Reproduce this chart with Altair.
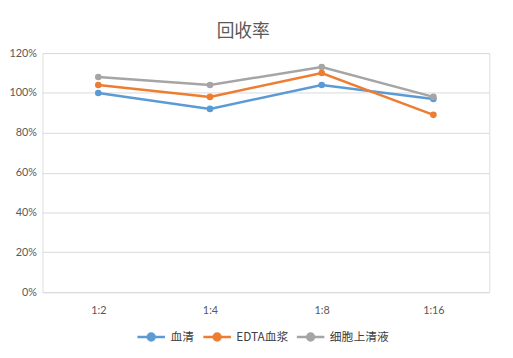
import altair as alt
import pandas as pd

categories = ["1:2", "1:4", "1:8", "1:16"]
series_names = ["血清", "EDTA血浆", "细胞上清液"]
serum = [1.00, 0.92, 1.04, 0.97]
edta = [1.04, 0.98, 1.10, 0.89]
supernatant = [1.08, 1.04, 1.13, 0.98]
colors = ["#5B9BD5", "#ED7D31", "#A5A5A5"]
y_ticks = [0, 0.2, 0.4, 0.6, 0.8, 1.0, 1.2]

rows = []
for name, vals in zip(series_names, [serum, edta, supernatant]):
    for c, v in zip(categories, vals):
        rows.append({"cat": c, "series": name, "value": v})
df = pd.DataFrame(rows)

sym = "M-1,0L1,0M-0.25,0A0.25,0.25,0,1,1,0.25,0A0.25,0.25,0,1,1,-0.25,0Z"

color = alt.Color(
    "series:N",
    scale=alt.Scale(domain=series_names, range=colors),
    legend=alt.Legend(
        title=None,
        orient="none",
        direction="horizontal",
        legendX=95,
        legendY=273,
        symbolType=sym,
        symbolSize=784,
        symbolStrokeWidth=2.5,
        labelFont="Noto Sans CJK SC",
        labelFontSize=12,
        labelColor="#404040",
        labelOffset=4,
        columnPadding=3,
    ),
)

base = alt.Chart(df).encode(
    x=alt.X(
        "cat:N",
        sort=categories,
        scale=alt.Scale(type="point", padding=0.5),
        axis=alt.Axis(
            title=None, labelAngle=0, ticks=False, domain=False, grid=False,
            labelFont="Lato", labelFontSize=11, labelColor="#595959", labelPadding=13,
        ),
    ),
    y=alt.Y(
        "value:Q",
        scale=alt.Scale(domain=[0, 1.2], nice=False, zero=True),
        axis=alt.Axis(
            title=None, values=y_ticks, format=".0%", ticks=False, domain=False,
            gridColor="#D9D9D9", gridWidth=1,
            labelFont="Lato", labelFontSize=11, labelColor="#595959", labelPadding=6,
        ),
    ),
    color=color,
)

lines = base.mark_line(strokeWidth=2.5)
points = base.mark_point(filled=True, size=45, opacity=1)

chart = (
    (lines + points)
    .properties(
        width=454,
        height=243,
        title=alt.TitleParams(
            "回收率", font="Noto Sans CJK SC", fontSize=18, fontWeight="normal",
            color="#595959", dx=-23, offset=6,
        ),
        autosize=alt.AutoSizeParams(type="none"),
        padding={"left": 35, "top": 43, "right": 16, "bottom": 62},
    )
    .configure_view(stroke=None)
    .configure(background="white")
)

chart.save("out.html", embed_options={"renderer": "svg", "actions": False})
